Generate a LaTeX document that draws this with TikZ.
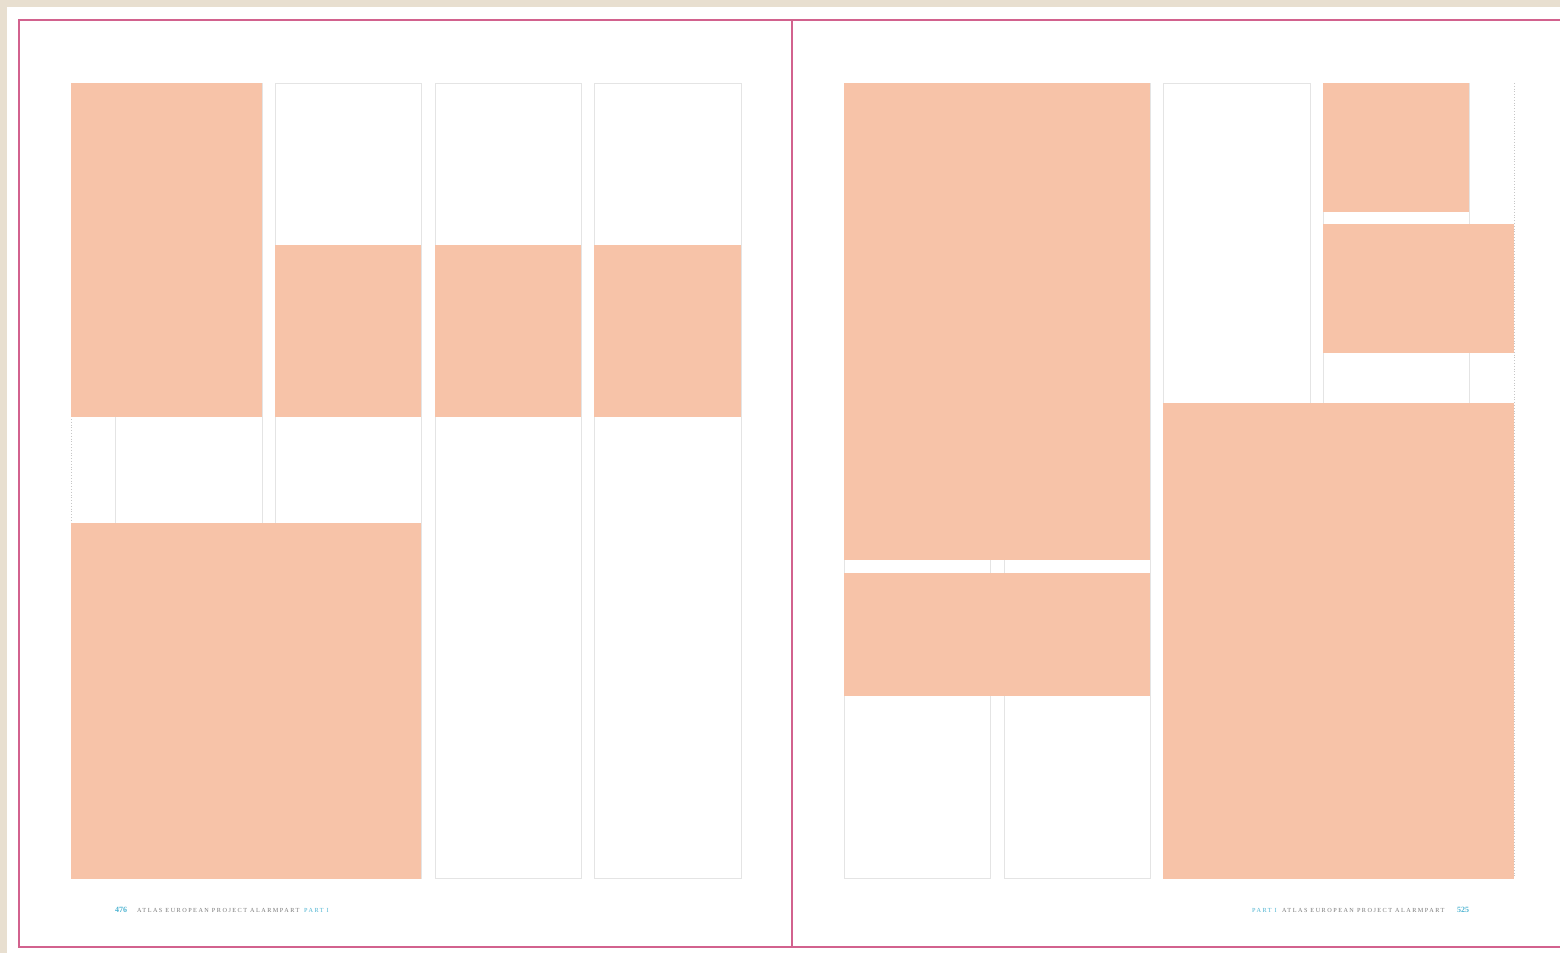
\documentclass[tikz,border=0pt]{standalone}
\usepackage{fontspec}
\newfontfamily\footfont[LetterSpace=24]{Liberation Serif}
\newfontfamily\numfont{Liberation Serif}
\definecolor{beige}{HTML}{E8DFD0}
\definecolor{peach}{HTML}{F7C3A8}
\definecolor{pinkline}{HTML}{D2628E}
\definecolor{gridgray}{HTML}{E4E4E4}
\definecolor{cyantext}{HTML}{4DB4D2}
\definecolor{graytext}{HTML}{7A7A7A}
\tikzset{
  block/.style={fill=peach, draw=none},
  col/.style={draw=gridgray, line width=0.8pt, fill=none},
  margin/.style={draw=gridgray!70!gray, line width=0.8pt, dotted},
  foot/.style={inner sep=0pt, anchor=base west, font=\footfont\fontsize{6.2}{6.2}\selectfont},
  pagenum/.style={inner sep=0pt, anchor=base west, text=cyantext, font=\numfont\bfseries\fontsize{8}{8}\selectfont},
}
\begin{document}
\begin{tikzpicture}[x=1pt,y=-1pt]
\useasboundingbox (0,0) rectangle (1560,953);
\fill[beige] (0,0) rectangle (1560,953);
\fill[white] (7,7) rectangle (1560,953);
% page frame
\draw[pinkline, line width=1.6pt] (1565,20) -- (19,20) -- (19,947) -- (1565,947);
\draw[pinkline, line width=1.6pt] (792,20) -- (792,947);
% left page grid columns
\draw[col] (115,83) rectangle (262,878);
\draw[col] (275,83) rectangle (421,878);
\draw[col] (435,83) rectangle (581,878);
\draw[col] (594,83) rectangle (741,878);
\draw[margin] (71,83) -- (71,878);
% right page grid columns
\draw[col] (844,83) rectangle (990,878);
\draw[col] (1004,83) rectangle (1150,878);
\draw[col] (1163,83) rectangle (1310,878);
\draw[col] (1323,83) rectangle (1469,878);
\draw[margin] (1514,83) -- (1514,878);
% left page blocks
\path[block] (70.6,82.6) rectangle (262.4,417);
\path[block] (274.6,245) rectangle (421.4,417);
\path[block] (434.6,245) rectangle (581.4,417);
\path[block] (593.6,245) rectangle (741.4,417);
\path[block] (70.6,523) rectangle (421.4,878.5);
% right page blocks
\path[block] (843.6,82.6) rectangle (1150.4,560);
\path[block] (843.6,573) rectangle (1150.4,696);
\path[block] (1322.6,82.6) rectangle (1469.4,212);
\path[block] (1322.6,224) rectangle (1514.4,353);
\path[block] (1162.6,403) rectangle (1514.4,878.5);
% footers
\node[pagenum] (pl) at (115,912) {476};
\node[foot, text=graytext] (tl) at (137,912) {ATLAS EUROPEAN PROJECT ALARMPART};
\node[foot, text=cyantext] (sl) at (304,912) {PART I};
\node[foot, text=cyantext] (sr) at (1252,912) {PART I};
\node[foot, text=graytext] (tr) at (1282,912) {ATLAS EUROPEAN PROJECT ALARMPART};
\node[pagenum] (pr) at (1457,912) {525};
\end{tikzpicture}
\end{document}
